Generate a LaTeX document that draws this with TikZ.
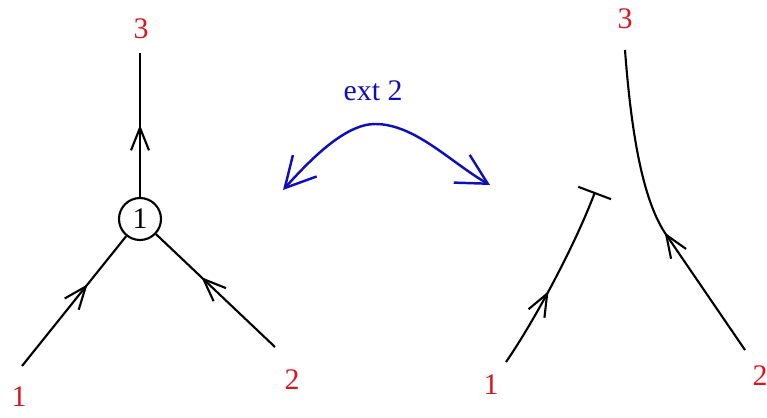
\documentclass[tikz,border=0pt]{standalone}
\usepackage{fontspec}
\setmainfont{Liberation Serif}
\usetikzlibrary{decorations.markings, arrows.meta}
\definecolor{labred}{RGB}{220,20,30}
\definecolor{extblue}{RGB}{15,15,185}
\tikzset{
  ->-/.style={
    decoration={markings, mark=at position #1 with {\arrow{Straight Barb[length=4.5mm,width=3.6mm]}}},
    postaction={decorate}
  },
  ->-/.default=0.55,
  leg/.style={line width=1.2pt},
  lbl/.style={text=labred, font=\fontsize{17}{20}\selectfont, inner sep=0pt},
  ext/.style={draw=extblue, line width=1.4pt, {Straight Barb[length=6mm,width=6.4mm]}-{Straight Barb[length=6mm,width=6.4mm]}}
}

\begin{document}
\begin{tikzpicture}[x=0.02cm, y=-0.02cm]
  \useasboundingbox (0,0) rectangle (767,418);
  % vertex with three legs
  \node[circle, draw, line width=1.2pt, minimum size=0.84cm, inner sep=0pt, font=\fontsize{17}{20}\selectfont] (v) at (140,219) {1};
  \coordinate (a1) at (22,366);
  \coordinate (a2) at (275,347);
  \coordinate (a3) at (140,53);
  \node[lbl] (la1) at (19,397) {1};
  \node[lbl] (la2) at (292,380) {2};
  \node[lbl] (la3) at (141,29) {3};
  \draw[leg, ->-=0.63] (a1) -- (v);
  \draw[leg, ->-=0.62] (a2) -- (v);
  \draw[leg, ->-=0.5] (v) -- (a3);
  %
  \node[lbl, text=extblue] (ext) at (373,91) {ext 2};
  \coordinate (eL) at (283,190);
  \coordinate (eT) at (375,124);
  \coordinate (eR) at (490,185);
  \draw[ext] (eL) .. controls (310,160) and (345,124) .. (eT) .. controls (415,124) and (450,162) .. (eR);
  %
  \coordinate (b1) at (506,362);
  \coordinate (bT) at (595,192);
  \coordinate (c2) at (745,350);
  \coordinate (cM) at (665,233);
  \coordinate (c3) at (625,50);
  \node[lbl] (lb1) at (491,385) {1};
  \node[lbl] (lc2) at (760,376) {2};
  \node[lbl] (lc3) at (625,19) {3};
  \draw[leg, ->-=0.43, -{Bar[width=7mm]}] (b1) .. controls (535,320) and (575,245) .. (bT);
  \draw[leg, ->-=0.43] (c2) -- (cM) .. controls (642,198) and (631,130) .. (c3);
\end{tikzpicture}
\end{document}
